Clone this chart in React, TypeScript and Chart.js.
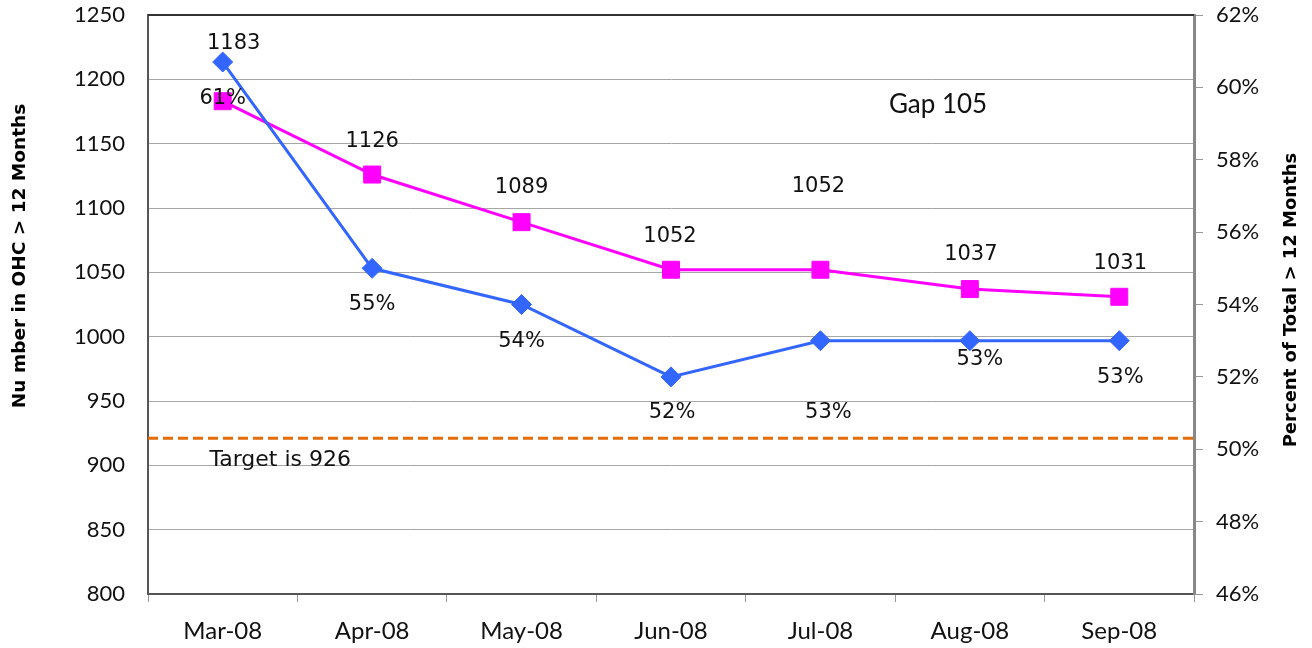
import React, { useEffect, useRef } from "react";
import { Chart, registerables } from "chart.js";

Chart.register(...registerables);

// ---- data ----
const months = ["Mar-08", "Apr-08", "May-08", "Jun-08", "Jul-08", "Aug-08", "Sep-08"];
const countOver12 = [1183, 1126, 1089, 1052, 1052, 1037, 1031];
const pctOver12 = [60.7, 55.0, 54.0, 52.0, 53.0, 53.0, 53.0];
const pctLabels = ["61%", "55%", "54%", "52%", "53%", "53%", "53%"];
const targetValue = 921;
const targetText = "Target is 926";
const gapText = "Gap 105";
const leftTitle = "Nu mber in OHC > 12 Months";
const rightTitle = "Percent of Total > 12 Months";

// ---- label styling offsets (pixels, relative to the point) ----
const countLabelDx = [11, 0, 0, -1, -2, 1, 1];
const countLabelDy = [-58, -33, -35, -33, -83, -35, -33];
const pctLabelDx = [0, 0, 0, 1, 8, 10, 1];
const pctLabelDy = [37, 36, 37, 36, 72, 19, 37];

const MAGENTA = "#FF00FF";
const BLUE = "#3366FF";
const ORANGE = "#E46C0A";
const LABEL_FONT = "21px 'DejaVu Sans'";
const TICK_FONT = { family: "Lato", size: 22 };
const X_TICK_FONT = { family: "Lato", size: 24 };

const overlayPlugin = {
  id: "overlay",
  beforeDatasetsDraw(chart: any) {
    const { ctx, chartArea, scales } = chart;
    const y = scales.y.getPixelForValue(targetValue);
    ctx.save();
    ctx.strokeStyle = ORANGE;
    ctx.lineWidth = 3;
    ctx.setLineDash([10, 5]);
    ctx.beginPath();
    ctx.moveTo(chartArea.left, y);
    ctx.lineTo(chartArea.right, y);
    ctx.stroke();
    ctx.restore();
  },
  afterDatasetsDraw(chart: any) {
    const { ctx, scales } = chart;
    const blueMeta = chart.getDatasetMeta(0);
    const magMeta = chart.getDatasetMeta(1);
    ctx.save();
    ctx.fillStyle = "#111";
    ctx.font = LABEL_FONT;
    ctx.textAlign = "center";
    ctx.textBaseline = "middle";
    magMeta.data.forEach((pt: any, i: number) => {
      ctx.fillText(String(countOver12[i]), pt.x + countLabelDx[i], pt.y + countLabelDy[i]);
    });
    blueMeta.data.forEach((pt: any, i: number) => {
      ctx.fillText(pctLabels[i], pt.x + pctLabelDx[i], pt.y + pctLabelDy[i]);
    });
    // annotations
    ctx.font = "22px 'DejaVu Sans'";
    ctx.fillText(targetText, scales.x.getPixelForValue(0.385), scales.y.getPixelForValue(904));
    ctx.font = "26px Lato";
    ctx.fillText(gapText, scales.x.getPixelForValue(4.787), scales.y.getPixelForValue(1180));
    ctx.restore();
  },
  afterDraw(chart: any) {
    const { ctx, chartArea } = chart;
    ctx.save();
    ctx.strokeStyle = "#333";
    ctx.lineWidth = 2;
    ctx.beginPath();
    ctx.moveTo(chartArea.left, chartArea.top);
    ctx.lineTo(chartArea.right, chartArea.top);
    ctx.stroke();
    ctx.fillStyle = "#000";
    ctx.font = "bold 18.5px 'DejaVu Sans'";
    ctx.textAlign = "center";
    ctx.textBaseline = "middle";
    ctx.translate(20, 256);
    ctx.rotate(-Math.PI / 2);
    ctx.fillText(leftTitle, 0, 0);
    ctx.restore();
    ctx.save();
    ctx.fillStyle = "#000";
    ctx.font = "bold 18px 'DejaVu Sans'";
    ctx.textAlign = "center";
    ctx.textBaseline = "middle";
    ctx.translate(1291, 300);
    ctx.rotate(-Math.PI / 2);
    ctx.fillText(rightTitle, 0, 0);
    ctx.restore();
  },
};

export default function App() {
  const canvasRef = useRef<HTMLCanvasElement | null>(null);

  useEffect(() => {
    if (!canvasRef.current) return;
    const chart = new Chart(canvasRef.current, {
      type: "line",
      data: {
        labels: months,
        datasets: [
          {
            label: "Percent of Total > 12 Months",
            data: pctOver12,
            yAxisID: "y1",
            borderColor: BLUE,
            backgroundColor: BLUE,
            borderWidth: 3,
            pointStyle: "rectRot",
            pointRadius: 10,
            pointBorderWidth: 1,
            pointBorderColor: BLUE,
            pointBackgroundColor: BLUE,
            tension: 0,
            order: 0,
          },
          {
            label: "Number in OHC > 12 Months",
            data: countOver12,
            yAxisID: "y",
            borderColor: MAGENTA,
            backgroundColor: MAGENTA,
            borderWidth: 3,
            pointStyle: "rect",
            pointRadius: 12,
            pointBorderWidth: 1,
            pointBorderColor: MAGENTA,
            pointBackgroundColor: MAGENTA,
            tension: 0,
            order: 1,
          },
        ],
      },
      options: {
        responsive: false,
        animation: false,
        layout: { padding: { top: 15, left: 0, right: 0, bottom: 0 } },
        plugins: {
          legend: { display: false },
          tooltip: { enabled: false },
        },
        scales: {
          x: {
            type: "category",
            offset: true,
            grid: {
              offset: true,
              drawOnChartArea: false,
              drawTicks: true,
              tickLength: 8,
              color: "#999",
            },
            border: { color: "#555", width: 2 },
            ticks: { font: X_TICK_FONT, color: "#111", padding: 15, maxRotation: 0 },
            afterFit: (s: any) => {
              s.height = 54;
              s.paddingLeft = 0;
              s.paddingRight = 0;
            },
          },
          y: {
            position: "left",
            min: 800,
            max: 1250,
            grid: { color: "#a6a6a6", lineWidth: 1, drawTicks: false },
            border: { color: "#555", width: 2 },
            ticks: {
              stepSize: 50,
              font: TICK_FONT,
              color: "#111",
              padding: 23,
              callback: (v: any) => String(v),
            },
            afterFit: (s: any) => {
              s.width = 148;
              s.paddingTop = 0;
              s.paddingBottom = 0;
            },
          },
          y1: {
            position: "right",
            min: 46,
            max: 62,
            grid: { drawOnChartArea: false, drawTicks: true, tickLength: 9, color: "#999" },
            border: { color: "#888", width: 3 },
            ticks: {
              stepSize: 2,
              font: TICK_FONT,
              color: "#111",
              padding: 13,
              callback: (v: any) => `${v}%`,
            },
            afterFit: (s: any) => {
              s.width = 118;
              s.paddingTop = 0;
              s.paddingBottom = 0;
            },
          },
        },
      },
      plugins: [overlayPlugin],
    });
    return () => chart.destroy();
  }, []);

  return (
    <div style={{ position: "absolute", left: 0, top: 0, width: 1312, height: 648, background: "#fff" }}>
      <canvas ref={canvasRef} width={1312} height={648} style={{ display: "block" }} />
    </div>
  );
}
